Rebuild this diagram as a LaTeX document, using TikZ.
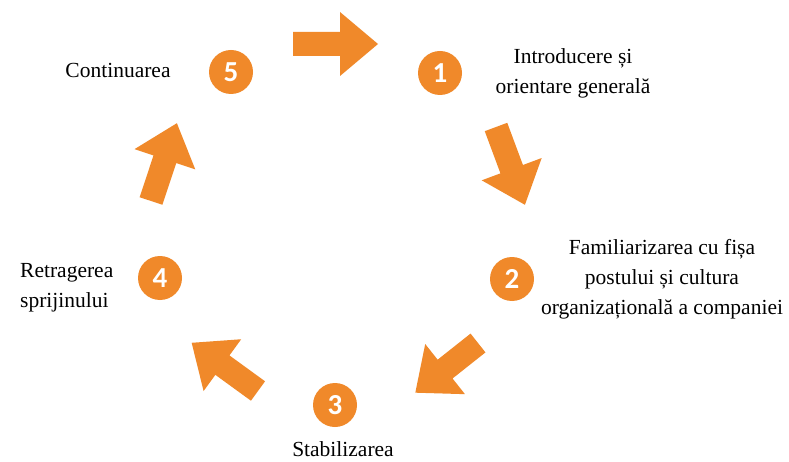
\documentclass[tikz,border=0pt]{standalone}
\usepackage{fontspec}
\setmainfont{Liberation Serif}
\newfontfamily\numfont{Carlito}
\definecolor{cycleorange}{RGB}{240,137,42}
\tikzset{
  stepnum/.style={circle, fill=cycleorange, minimum size=44pt, inner sep=0pt,
    text=white, font=\numfont\bfseries\fontsize{29}{29}\selectfont},
  steplabel/.style={align=center, font=\fontsize{21.5}{30}\selectfont, inner sep=0pt},
  flowfill/.style={fill=cycleorange}
}
% block arrow: tail point, canvas angle, total length
\newcommand\blockarrow[3]{%
  \begin{scope}[shift={#1}, rotate=#2]
    \fill[flowfill] (0,-12) -- (#3-38,-12) -- (#3-38,-32) -- (#3,0)
      -- (#3-38,32) -- (#3-38,12) -- (0,12) -- cycle;
  \end{scope}}
\begin{document}
\begin{tikzpicture}[x=1pt,y=-1pt]
  \useasboundingbox[fill=white] (0,0) rectangle (789,462);

  % numbered steps
  \node[stepnum] (n1) at (440,73) {1};
  \node[stepnum] (n2) at (512,279) {2};
  \node[stepnum] (n3) at (335,405) {3};
  \node[stepnum] (n4) at (160,278) {4};
  \node[stepnum] (n5) at (231,72) {5};

  % step labels
  \node[steplabel] (t1) at (573,73) {Introducere și\\orientare generală};
  \node[steplabel] (t2) at (662,279) {Familiarizarea cu fișa\\postului și cultura\\organizațională a companiei};
  \node[steplabel] (t3) at (343,449) {Stabilizarea};
  \node[steplabel, align=left, anchor=west] (t4) at (20,288) {Retragerea\\sprijinului};
  \node[steplabel] (t5) at (118,70) {Continuarea};

  % cycle arrows
  \blockarrow{(293,44)}{0}{85}
  \blockarrow{(496,127)}{-69.6}{83}
  \blockarrow{(478,343)}{-141.6}{80}
  \blockarrow{(258,391)}{144}{82}
  \blockarrow{(151,201)}{71.6}{82}
\end{tikzpicture}
\end{document}
